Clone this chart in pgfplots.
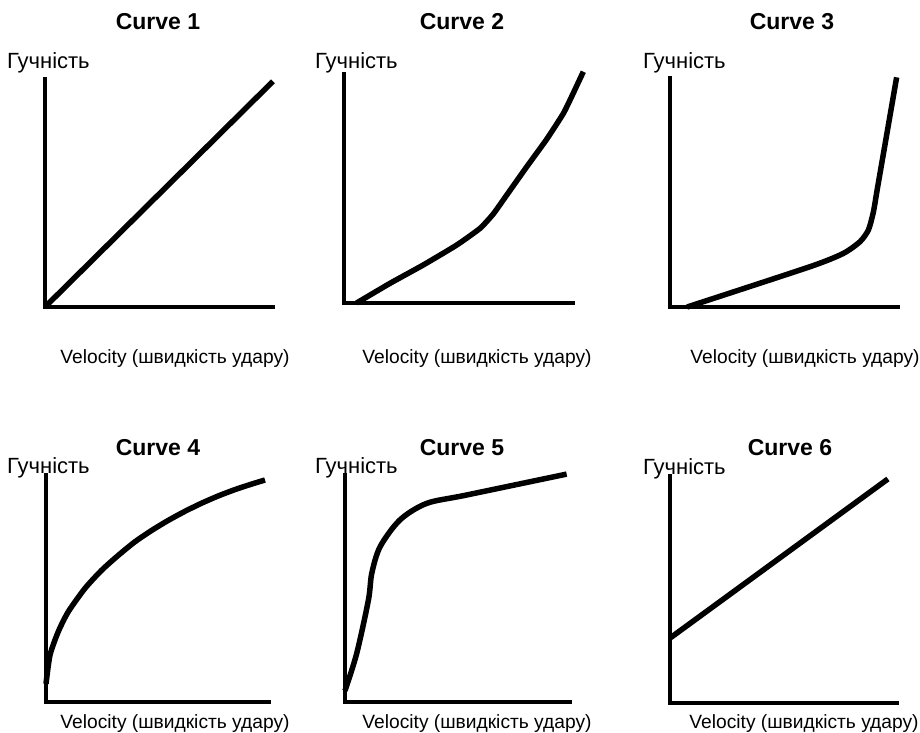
\documentclass[border=0pt]{standalone}
\usepackage{pgfplots}
\pgfplotsset{compat=1.18}
\usepackage{fontspec}
\setmainfont{Liberation Sans}

\pgfplotsset{
  curvepanel/.style={
    anchor=south west, scale only axis,
    xmin=0, xmax=100, ymin=0, ymax=100,
    axis lines*=left, ticks=none, clip=false,
    axis line style={line width=4.5pt, line cap=rect},
  },
  curve/.style={black, line width=5.5pt, mark=none},
}
\newcommand\ttl{\fontsize{23}{26}\selectfont\bfseries}
\newcommand\ylab{\fontsize{22}{25}\selectfont}
\newcommand\xlab{\fontsize{19.2}{22}\selectfont}

\begin{document}
\begin{tikzpicture}
\useasboundingbox (0,0) rectangle (920pt,-732pt);

% row 1
\begin{axis}[curvepanel, at={(45pt,-307pt)}, width=228pt, height=228pt]
  \addplot[curve] coordinates {(0,0) (100,99)};
\end{axis}
\begin{axis}[curvepanel, at={(344pt,-303pt)}, width=229pt, height=229pt]
  \addplot[curve, smooth, tension=0.3] coordinates {
    (5.5,0) (20.1,8.6) (34.6,16.6) (49.2,25.3) (59.4,32.6) (65.2,38.9)
    (71.1,47.2) (79.8,59.5) (88.5,71.5) (95.8,82.8) (100.1,91.6) (104.5,101)};
\end{axis}
\begin{axis}[curvepanel, at={(670pt,-307pt)}, width=228pt, height=229pt]
  \addplot[curve, smooth, tension=0.4] coordinates {
    (7.5,0) (61.4,17.6) (76,23.4) (83.3,28.5) (87,33.6) (89.2,41.5)
    (91,52) (95,75) (99.4,100.3)};
\end{axis}

% row 2
\begin{axis}[curvepanel, at={(46pt,-702pt)}, width=223pt, height=227pt]
  \addplot[curve, smooth, tension=0.4] coordinates {
    (0,8) (1.8,20.7) (5.5,31) (10,39.8) (17.5,50.1) (25,58.1) (32.4,64.6)
    (39.9,70.6) (47.4,75.6) (54.8,80) (62.3,84) (69.8,87.6) (77.3,90.8)
    (84.8,93.6) (92.2,96) (98.2,97.8)};
\end{axis}
\begin{axis}[curvepanel, at={(345pt,-702pt)}, width=225pt, height=227pt]
  \addplot[curve, smooth, tension=0.5] coordinates {
    (0,5) (5.2,21.4) (10.4,44.9) (11.9,56.7) (15.6,68.4) (24.4,80.2)
    (36.3,87.5) (54.1,91.2) (98.5,100.4)};
\end{axis}
\begin{axis}[curvepanel, at={(670pt,-703pt)}, width=227pt, height=227pt]
  \addplot[curve] coordinates {(0,28.6) (96,98.7)};
\end{axis}

% titles
\node[anchor=base] at (158pt,-29pt) {\ttl Curve 1};
\node[anchor=base] at (462pt,-29pt) {\ttl Curve 2};
\node[anchor=base] at (792pt,-29pt) {\ttl Curve 3};
\node[anchor=base] at (158pt,-455pt) {\ttl Curve 4};
\node[anchor=base] at (462pt,-455pt) {\ttl Curve 5};
\node[anchor=base] at (790pt,-455pt) {\ttl Curve 6};

% y labels
\node[anchor=base west, inner sep=0pt] at (7pt,-68pt) {\ylab Гучність};
\node[anchor=base west, inner sep=0pt] at (315pt,-68pt) {\ylab Гучність};
\node[anchor=base west, inner sep=0pt] at (643pt,-68pt) {\ylab Гучність};
\node[anchor=base west, inner sep=0pt] at (7pt,-473pt) {\ylab Гучність};
\node[anchor=base west, inner sep=0pt] at (315pt,-473pt) {\ylab Гучність};
\node[anchor=base west, inner sep=0pt] at (643pt,-474pt) {\ylab Гучність};

% x labels
\node[anchor=base] at (175pt,-363pt) {\xlab Velocity (швидкість удару)};
\node[anchor=base] at (477pt,-363pt) {\xlab Velocity (швидкість удару)};
\node[anchor=base] at (805pt,-363pt) {\xlab Velocity (швидкість удару)};
\node[anchor=base] at (175pt,-728pt) {\xlab Velocity (швидкість удару)};
\node[anchor=base] at (477pt,-728pt) {\xlab Velocity (швидкість удару)};
\node[anchor=base] at (804pt,-728pt) {\xlab Velocity (швидкість удару)};
\end{tikzpicture}
\end{document}
